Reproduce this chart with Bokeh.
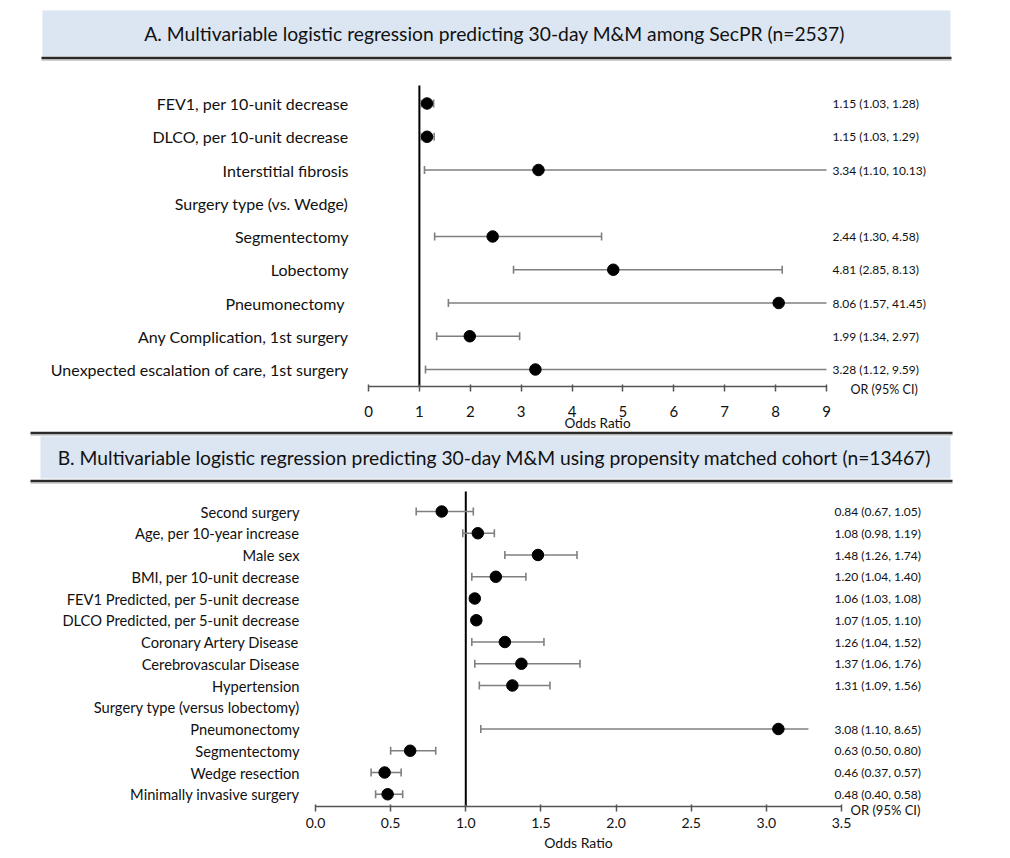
import numpy as np
from bokeh.plotting import figure
from bokeh.layouts import column
from bokeh.models import Range1d, LinearAxis, FixedTicker, PrintfTickFormatter, BasicTickFormatter
from bokeh.core.properties import value
from bokeh.embed import file_html
from bokeh.resources import INLINE

FONT = "Lato"

# ---------------- Panel A data ----------------
title_a = "A. Multivariable logistic regression predicting 30-day M&M among SecPR (n=2537)"
labels_a = [
    "FEV1, per 10-unit decrease",
    "DLCO, per 10-unit decrease",
    "Interstitial fibrosis",
    "Surgery type (vs. Wedge)",
    "Segmentectomy",
    "Lobectomy",
    "Pneumonectomy ",
    "Any Complication, 1st surgery",
    "Unexpected escalation of care, 1st surgery",
]
or_a = [1.15, 1.15, 3.34, np.nan, 2.44, 4.81, 8.06, 1.99, 3.28]
lo_a = [1.03, 1.03, 1.10, np.nan, 1.30, 2.85, 1.57, 1.34, 1.12]
hi_a = [1.28, 1.29, 10.13, np.nan, 4.58, 8.13, 41.45, 2.97, 9.59]
ticks_a = [0, 1, 2, 3, 4, 5, 6, 7, 8, 9]

# ---------------- Panel B data ----------------
title_b = "B. Multivariable logistic regression predicting 30-day M&M using propensity matched cohort (n=13467)"
labels_b = [
    "Second surgery",
    "Age, per 10-year increase",
    "Male sex",
    "BMI, per 10-unit decrease",
    "FEV1 Predicted, per 5-unit decrease",
    "DLCO Predicted, per 5-unit decrease",
    "Coronary Artery Disease",
    "Cerebrovascular Disease",
    "Hypertension",
    "Surgery type (versus lobectomy)",
    "Pneumonectomy",
    "Segmentectomy",
    "Wedge resection",
    "Minimally invasive surgery",
]
or_b = [0.84, 1.08, 1.48, 1.20, 1.06, 1.07, 1.26, 1.37, 1.31, np.nan, 3.08, 0.63, 0.46, 0.48]
lo_b = [0.67, 0.98, 1.26, 1.04, 1.03, 1.05, 1.04, 1.06, 1.09, np.nan, 1.10, 0.50, 0.37, 0.40]
hi_b = [1.05, 1.19, 1.74, 1.40, 1.08, 1.10, 1.52, 1.76, 1.56, np.nan, 8.65, 0.80, 0.57, 0.58]
ticks_b = [0.0, 0.5, 1.0, 1.5, 2.0, 2.5, 3.0, 3.5]

x_title = "Odds Ratio"
ci_title = "OR (95% CI)"


def fmt_ci(o, l, h):
    if np.isnan(o):
        return ""
    return f"{o:.2f} ({l:.2f}, {h:.2f})"


def panel(W, H, title, labels, ors, los, his, ticks, tick_fmt, L):
    ors = np.array(ors, dtype=float)
    los = np.array(los, dtype=float)
    his = np.array(his, dtype=float)
    idx = np.arange(len(labels), dtype=float)

    t0, t1 = ticks[0], ticks[-1]
    kx = (t1 - t0) / (L["x1px"] - L["x0px"])

    def px2x(px):
        return t0 + (px - L["x0px"]) * kx

    def py2y(py):
        return (py - L["row0"]) / L["rowstep"]

    p = figure(width=W, height=H,
               x_range=Range1d(px2x(0), px2x(W)),
               y_range=Range1d(py2y(H), py2y(0)),
               x_axis_type=None, y_axis_type=None,
               toolbar_location=None, output_backend="svg",
               min_border=0, outline_line_color=None)
    p.background_fill_color = "white"

    # title band
    p.quad(left=[px2x(L["band_l"])], right=[px2x(L["band_r"])],
           top=[py2y(L["band_t"])], bottom=[py2y(L["band_b"])],
           fill_color="#dce6f2", line_color=None)
    p.text(x=[px2x(L["title_x"])], y=[py2y(L["title_y"])], text=[title],
           text_align="center", text_baseline="middle", text_font=value(FONT),
           text_font_size=L["title_fs"], text_color="#111111")
    for ly in L["rules"]:
        p.segment(x0=[px2x(L["rule_l"])], x1=[px2x(L["rule_r"])], y0=[py2y(ly)], y1=[py2y(ly)],
                  line_color="#2a2a2a", line_width=2.5)
        p.segment(x0=[px2x(L["rule_l"])], x1=[px2x(L["rule_r"])], y0=[py2y(ly + 2)], y1=[py2y(ly + 2)],
                  line_color="#a0a0a0", line_width=1)

    axis_y = py2y(L["axis_px"])
    # reference line at OR = 1
    p.segment(x0=[1], x1=[1], y0=[py2y(L["ref_top"])], y1=[axis_y], line_color="black", line_width=2)

    # confidence intervals
    clip = L["clip"]
    hi_draw = np.minimum(his, clip)
    p.segment(x0=los, x1=hi_draw, y0=idx, y1=idx, line_color="#7f7f7f", line_width=1.6)
    p.scatter(x=los, y=idx, marker="dash", angle=np.pi / 2, size=8, line_color="#7f7f7f", line_width=1.6)
    capped = his <= clip
    p.scatter(x=his[capped], y=idx[capped], marker="dash", angle=np.pi / 2, size=8,
              line_color="#7f7f7f", line_width=1.6)
    # point estimates
    p.scatter(x=ors, y=idx, size=L["dot"], fill_color="black", line_color="black")

    # row labels
    p.text(x=px2x(L["lab_r"]), y=idx, text=labels, text_align="right", text_baseline="middle",
           text_font=value(FONT), text_font_size=L["lab_fs"], text_color="#111111")
    # OR (CI) values
    vals = [fmt_ci(o, l, h) for o, l, h in zip(ors, los, his)]
    p.text(x=px2x(L["val_l"]), y=idx, text=vals, text_align="left", text_baseline="middle",
           text_font=value(FONT), text_font_size=L["val_fs"], text_color="#111111")
    p.text(x=[px2x(L["ci_x"])], y=[py2y(L["ci_y"])], text=[ci_title], text_align="left",
           text_baseline="middle", text_font=value(FONT), text_font_size=L["ci_fs"],
           text_color="#111111")
    # x axis title
    p.text(x=[(t0 + t1) / 2], y=[py2y(L["xt_y"])], text=[x_title], text_align="center",
           text_baseline="middle", text_font=value(FONT), text_font_size=L["xt_fs"],
           text_color="#111111")

    ax = LinearAxis(fixed_location=axis_y, bounds=(t0, t1), ticker=FixedTicker(ticks=ticks),
                    formatter=tick_fmt)
    ax.axis_line_color = "#555555"
    ax.axis_line_width = 1.5
    ax.major_tick_line_color = "#555555"
    ax.major_tick_line_width = 1.5
    ax.major_tick_in = 2
    ax.major_tick_out = 5
    ax.minor_tick_line_color = None
    ax.major_label_text_font = FONT
    ax.major_label_text_font_size = L["tick_fs"]
    ax.major_label_text_color = "#111111"
    ax.major_label_standoff = L["standoff"]
    p.add_layout(ax, "below")
    return p


W = 1000
HA = 430
LA = dict(band_l=42, band_r=950, band_t=10, band_b=56, title_x=494, title_y=33, rules=[57.5],
          rule_l=41, rule_r=951,
          title_fs="19.3px", row0=103, rowstep=33.25, x0px=368, x1px=826, ref_top=85, axis_px=386,
          clip=9.0, dot=11.5, lab_r=348, lab_fs="16px", val_l=832, val_fs="12px",
          ci_x=850, ci_y=389, ci_fs="12.5px", xt_y=422, xt_fs="13.5px", tick_fs="15px", standoff=14)
# panel B coordinates are relative to its own top (page y 430)
LB = dict(band_l=40, band_r=950, band_t=6, band_b=48, title_x=494, title_y=27, rules=[2.5, 50.5],
          rule_l=30, rule_r=952,
          title_fs="19.3px", row0=81, rowstep=21.75, x0px=315, x1px=841, ref_top=61, axis_px=376,
          clip=3.28, dot=11.5, lab_r=299, lab_fs="14.7px", val_l=834, val_fs="12px",
          ci_x=850, ci_y=379, ci_fs="13px", xt_y=412, xt_fs="14px", tick_fs="14px", standoff=6)

pA = panel(W, HA, title_a, labels_a, or_a, lo_a, hi_a, ticks_a, BasicTickFormatter(), LA)
pB = panel(W, 858 - HA, title_b, labels_b, or_b, lo_b, hi_b, ticks_b, PrintfTickFormatter(format="%.1f"), LB)

layout = column(pA, pB, spacing=0)
open("out.html", "w").write(file_html(layout, INLINE))
